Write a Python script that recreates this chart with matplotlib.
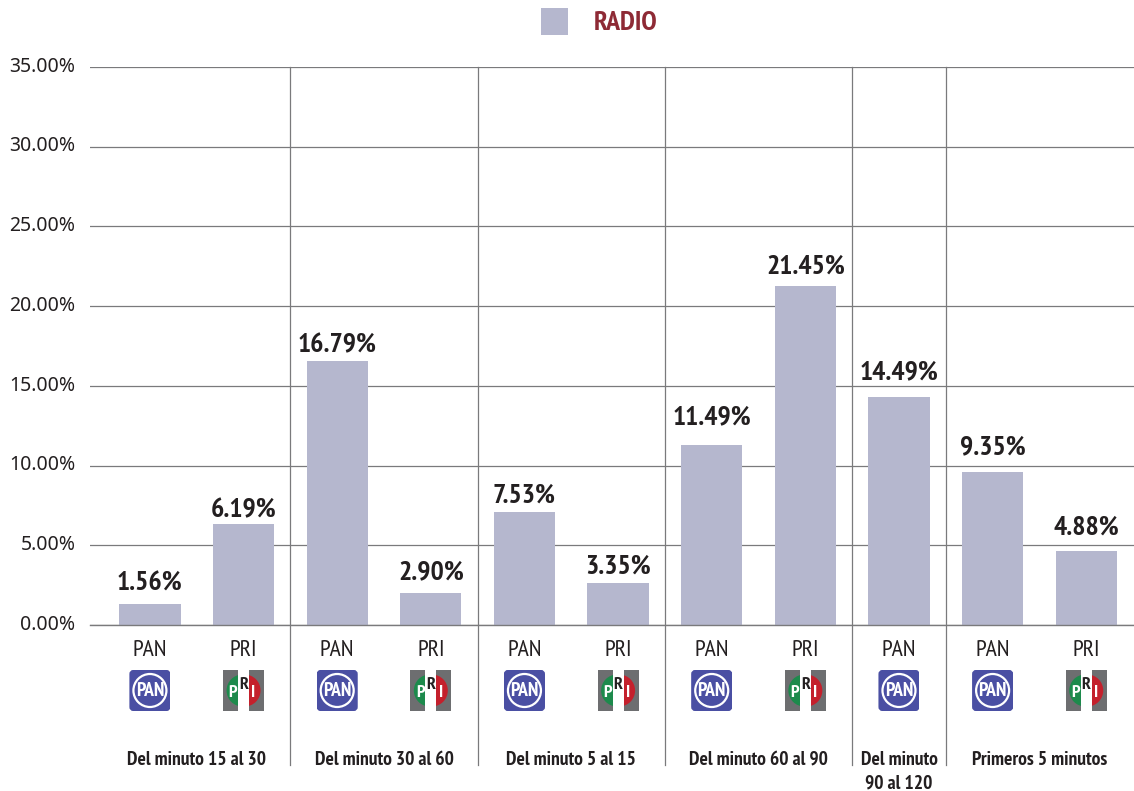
import matplotlib
matplotlib.use('Agg')
import matplotlib.pyplot as plt
from matplotlib.patches import Rectangle, FancyBboxPatch, Circle, Wedge
from matplotlib.transforms import ScaledTranslation

W, H = 1134, 791
NARROW = ['PT Sans Narrow', 'Roboto Condensed', 'Liberation Sans', 'DejaVu Sans']

parties = ['PAN', 'PRI', 'PAN', 'PRI', 'PAN', 'PRI', 'PAN', 'PRI', 'PAN', 'PAN', 'PRI']
# bar heights as drawn differ a little from the printed labels in the source
bar_values = [1.32, 6.34, 16.56, 2.00, 7.09, 2.63, 11.29, 21.27, 14.30, 9.60, 4.64]
bar_labels = ['1.56%', '6.19%', '16.79%', '2.90%', '7.53%', '3.35%', '11.49%',
              '21.45%', '14.49%', '9.35%', '4.88%']
groups = ['Del minuto 15 al 30', 'Del minuto 30 al 60', 'Del minuto 5 al 15',
          'Del minuto 60 al 90', 'Del minuto\n90 al 120', 'Primeros 5 minutos']
group_centers = [0.5, 2.5, 4.5, 6.5, 8, 9.5]
group_edges = [1.5, 3.5, 5.5, 7.5, 8.5]
yticks = [0, 5, 10, 15, 20, 25, 30, 35]
# the labels were placed by hand in the original, not at a fixed gap
label_gap = [8, 2, 4, 9, 4, 4, 16, 7, 13, 13, 11]

bar_color = '#b5b7ce'
line_color = '#7a7a7c'
text_color = '#231f20'

fig = plt.figure(figsize=(W / 100, H / 100), dpi=100)
ax = fig.add_axes([90 / W, 1 - 625 / H, (W - 90) / W, (625 - 67) / H])

ax.bar(range(len(bar_values)), bar_values, width=0.655, color=bar_color, zorder=2)
ax.set_xlim(-0.64, 10.51)
ax.set_ylim(0, 35)
ax.set_yticks(yticks)
ax.set_yticklabels(['%.2f%%' % t for t in yticks], fontsize=14, color=text_color,
                   family=['Noto Sans', 'DejaVu Sans'])
ax.tick_params(axis='y', length=0, pad=10.5)
for t in ax.get_yticklabels():
    t.set_transform(t.get_transform() + ScaledTranslation(0, 2 / 72, fig.dpi_scale_trans))
ax.set_xticks([])
ax.grid(axis='y', color=line_color, linewidth=0.9, zorder=1)
ax.set_axisbelow(True)
for s in ['top', 'right', 'left']:
    ax.spines[s].set_visible(False)
ax.spines['bottom'].set_color(line_color)
ax.spines['bottom'].set_linewidth(1.0)

# group separators run from the top of the plot down past the axis
trans = ax.get_xaxis_transform()
for x in group_edges:
    ax.plot([x, x], [1, -140 / 558], transform=trans, color=line_color,
            linewidth=0.9, clip_on=False, zorder=1)

for i, (v, lab) in enumerate(zip(bar_values, bar_labels)):
    ax.annotate(lab, (i, v), xytext=(0, label_gap[i] * 0.72), textcoords='offset points',
                ha='center', va='bottom', fontsize=20, fontweight='bold', color=text_color,
                family=NARROW)


def to_px(x):
    return ax.transData.transform((x, 0))[0]


def draw_pan(a):
    a.add_patch(FancyBboxPatch((1, 1), 39, 39, boxstyle='round,pad=0,rounding_size=3',
                               fc='#4a4fa3', ec='#4a4fa3', lw=1.5))
    a.add_patch(Circle((20.5, 20.5), 16.5, fc='none', ec='white', lw=1.6))
    a.text(20.5, 20, 'PAN', ha='center', va='center', color='white', fontsize=14,
           fontweight='bold', family=NARROW)


def draw_pri(a):
    a.add_patch(Rectangle((0, 0), 41, 41, fc='#6d6e70'))
    a.add_patch(Wedge((19.5, 20.5), 16, 90, 270, fc='#1d8a4c'))
    a.add_patch(Wedge((21.5, 20.5), 16, -90, 90, fc='#c4202c'))
    a.add_patch(Rectangle((15, 0), 11, 41, fc='white'))
    a.text(10, 18, 'P', ha='center', va='center', color='white', fontsize=13,
           fontweight='bold', family=NARROW)
    a.text(20.5, 26, 'R', ha='center', va='center', color=text_color, fontsize=13,
           fontweight='bold', family=NARROW)
    a.text(30.5, 18, 'I', ha='center', va='center', color='white', fontsize=13,
           fontweight='bold', family=NARROW)


for i, p in enumerate(parties):
    px = to_px(i)
    fig.text(px / W, 1 - 651 / H, p, ha='center', va='center', fontsize=17,
             color=text_color, family=NARROW)
    la = fig.add_axes([(px - 20.5) / W, 1 - 711 / H, 41 / W, 41 / H])
    la.set_xlim(0, 41)
    la.set_ylim(0, 41)
    la.axis('off')
    if p == 'PAN':
        draw_pan(la)
    else:
        draw_pri(la)

for c, g in zip(group_centers, groups):
    fig.text(to_px(c) / W, 1 - 751 / H, g, ha='center', va='top', fontsize=14,
             fontweight='bold', color=text_color, family=NARROW, linespacing=1.4)

# legend
fig.patches.append(Rectangle((541 / W, 1 - 35 / H), 27 / W, 27 / H, fc=bar_color,
                             transform=fig.transFigure))
fig.text(594 / W, 1 - 23 / H, 'RADIO', ha='left', va='center', fontsize=20,
         fontweight='bold', color='#8e2a35', family=NARROW)

fig.savefig('out.png', dpi=100)
